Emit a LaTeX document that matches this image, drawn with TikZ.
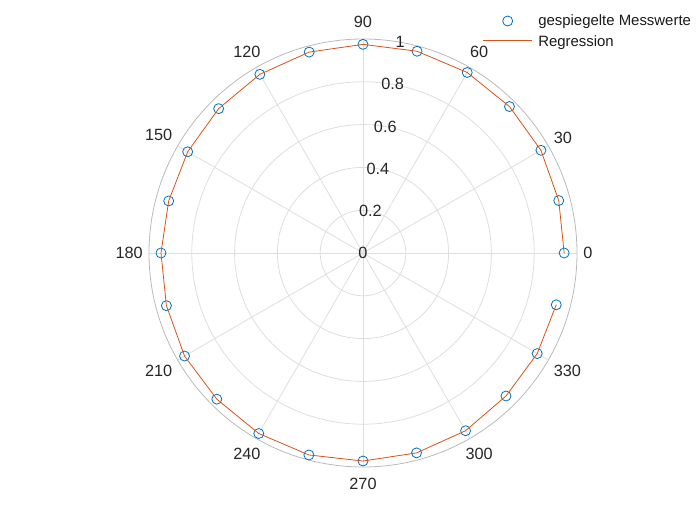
\documentclass[tikz,border=0pt]{standalone}
\usepackage{fontspec}
\setmainfont{Liberation Sans}
\definecolor{mblau}{RGB}{0,114,189}
\definecolor{morange}{RGB}{217,83,25}
\begin{document}
\begin{tikzpicture}[x=0.75pt,y=0.75pt,
    gitter/.style = {draw=black!13, line width=0.6pt},
    rand/.style = {draw=black!27, line width=0.6pt},
    messpunkt/.style = {draw=mblau, line width=0.6pt},
    regline/.style = {draw=morange, line width=0.6pt},
    beschr/.style = {font=\fontsize{12.2}{14}\selectfont, text=black!85},
    legtext/.style = {font=\fontsize{11.2}{13}\selectfont, text=black!90, anchor=base west, inner sep=0pt}]
    \useasboundingbox (-363,-272) rectangle (337,253);

    % Gitter
    \foreach \r in {42.8,85.6,128.4,171.2} \draw[gitter] (0,0) circle (\r);
    \foreach \a in {0,30,...,330} \draw[gitter] (0,0) -- (\a:214);
    \draw[rand] (0,0) circle (214);

    % Winkel
    \foreach \a [evaluate=\a as \b using {int(mod(\a+180,360))}] in {0,30,...,330}
        \node[beschr, anchor=\b, inner xsep=0pt, inner ysep=3.5pt] (w\a) at (\a:220) {\a};

    % Radien
    \foreach \r/\t [count=\i] in {0/0,0.2/0.2,0.4/0.4,0.6/0.6,0.8/0.8,1/1}
        \node[beschr, inner sep=0pt] (rt\i) at (80:214*\r) {\t};

    % Messwerte
    \foreach \a/\r [evaluate=\r as \rr using 214*\r] in {0/0.940,15/0.947,30/0.960,45/0.968,
        60/0.974,75/0.976,90/0.975,105/0.972,120/0.964,135/0.954,150/0.946,165/0.940,
        180/0.944,195/0.951,210/0.963,225/0.966,240/0.974,255/0.977,270/0.972,285/0.967,
        300/0.959,315/0.945,330/0.940,345/0.935}
        \coordinate (p\a) at (\a:\rr);
    \foreach \a in {0,15,...,345} \draw[messpunkt] (p\a) circle (5);
    \draw[regline] (p0) \foreach \a in {15,30,...,345} {-- (p\a)};

    % Legende
    \coordinate (lm) at (144.7,232);
    \coordinate (la) at (119.7,212.3);
    \coordinate (lb) at (169,212.3);
    \draw[messpunkt] (lm) circle (5);
    \draw[regline] (la) -- (lb);
    \node[legtext] (l1) at (175,227) {gespiegelte Messwerte};
    \node[legtext] (l2) at (175,206.3) {Regression};
\end{tikzpicture}
\end{document}
